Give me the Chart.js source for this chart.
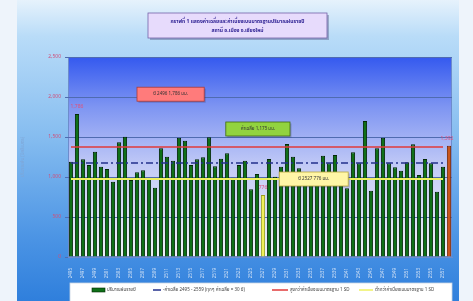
<!DOCTYPE html>
<html>
<head>
<meta charset="utf-8">
<script src="https://cdn.jsdelivr.net/npm/chart.js@4/dist/chart.umd.min.js"></script>
<style>
  html, body { margin: 0; padding: 0; background: #f2f7fc; }
  #wrap { width: 473px; height: 301px; position: relative; }
</style>
</head>
<body>
<div id="wrap"><canvas id="rainChart"></canvas></div>
<script>
const years = ['2495','2496','2497','2498','2499','2500','2501','2502','2503','2504',
    '2505','2506','2507','2508','2509','2510','2511','2512','2513','2514',
    '2515','2516','2517','2518','2519','2520','2521','2522','2523','2524',
    '2525','2526','2527','2528','2529','2530','2531','2532','2533','2534',
    '2535','2536','2537','2538','2539','2540','2541','2542','2543','2544',
    '2545','2546','2547','2548','2549','2550','2551','2552','2553','2554',
    '2555','2556','2557','2558'];
const rain = [1191, 1786, 1221, 1150, 1317, 1129, 1100, 942, 1433, 1504,
    963, 1058, 1083, 983, 867, 1358, 1254, 1204, 1492, 1454,
    1150, 1221, 1246, 1496, 1133, 1229, 1296, 992, 1150, 1204,
    846, 1038, 776, 1225, 1004, 1129, 1413, 1254, 1108, 1000,
    1040, 980, 1267, 1171, 1275, 1038, 858, 1308, 1171, 1700,
    829, 1358, 1492, 1171, 1121, 1079, 1183, 1408, 1025, 1225,
    1171, 817, 1129, 1392];
const meanRain = 1175;
const upperRain = 1375;
const lowerRain = 975;
const yTicks = [0, 500, 1000, 1500, 2000, 2500];

const FONT = "'Noto Sans Thai', 'Noto Sans', 'DejaVu Sans', sans-serif";
const maxIdx = 1, minIdx = 32, lastIdx = rain.length - 1;

const barColors = rain.map((v, i) => i === minIdx ? '#eef05a' : (i === lastIdx ? '#c9561c' : '#0f7018'));
const barBorders = rain.map((v, i) => i === minIdx ? '#9aa020' : (i === lastIdx ? '#7a2a08' : '#032806'));
const flat = v => years.map((y, i) => i < lastIdx ? v : null);

const fmt = v => v.toLocaleString('en-US');

// text boxes over the plot: [text, fill, border, fromIndex, toIndex, centre value]
const notes = [
    ['ปี ' + years[maxIdx] + ' ' + fmt(rain[maxIdx]) + ' มม.', '#ff7b7b', '#a83a3a', 11.0, 22.2, 2035],
    ['ค่าเฉลี่ย ' + fmt(meanRain) + ' มม.', '#92d33f', '#3f6a10', 25.8, 36.5, 1600],
    ['ปี ' + years[minIdx] + ' ' + fmt(rain[minIdx]) + ' มม.', '#fff6a6', '#b8a840', 34.7, 46.2, 975]
];

const backdrop = {
    id: 'backdrop',
    beforeDraw(chart) {
        const { ctx, chartArea: a, width, height } = chart;
        ctx.save();
        ctx.fillStyle = '#eef4fb';
        ctx.fillRect(0, 0, width, height);
        let g = ctx.createLinearGradient(0, 0, 0, height);
        g.addColorStop(0, '#e6f2fc');
        g.addColorStop(0.12, '#b9dcf8');
        g.addColorStop(0.45, '#86bdf0');
        g.addColorStop(0.8, '#4a93e4');
        g.addColorStop(1, '#2f7fdc');
        ctx.fillStyle = g;
        ctx.fillRect(17, 0, width - 31, height);
        g = ctx.createLinearGradient(0, a.top, 0, a.bottom);
        g.addColorStop(0, '#3459ef');
        g.addColorStop(0.25, '#7e95f2');
        g.addColorStop(0.55, '#c3cbf6');
        g.addColorStop(1, '#f2f4fc');
        ctx.fillStyle = g;
        ctx.fillRect(a.left, a.top, a.right - a.left, a.bottom - a.top);
        ctx.strokeStyle = '#6d8ccc';
        ctx.lineWidth = 1;
        ctx.strokeRect(a.left + 0.5, a.top + 0.5, a.right - a.left - 1, a.bottom - a.top - 1);
        ctx.restore();
    },
    afterDatasetsDraw(chart) {
        const { ctx } = chart;
        const x = chart.scales.x, y = chart.scales.y;
        ctx.save();
        ctx.font = '4.5px ' + FONT;
        ctx.textAlign = 'center';
        ctx.textBaseline = 'middle';
        notes.forEach(([text, fill, border, i0, i1, v]) => {
            const l = x.getPixelForValue(i0), r = x.getPixelForValue(i1);
            const cy = y.getPixelForValue(v);
            ctx.fillStyle = 'rgba(40,40,80,0.25)';
            ctx.fillRect(l + 1.5, cy - 5.5, r - l, 14);
            ctx.fillStyle = fill;
            ctx.fillRect(l, cy - 7, r - l, 14);
            ctx.strokeStyle = border;
            ctx.lineWidth = 0.8;
            ctx.strokeRect(l, cy - 7, r - l, 14);
            ctx.fillStyle = '#333';
            ctx.fillText(text, (l + r) / 2, cy);
        });
        // value labels above a few bars
        const meta = chart.getDatasetMeta(0);
        ctx.font = '5px ' + FONT;
        ctx.fillStyle = '#e0507a';
        [maxIdx, minIdx, lastIdx].forEach(i => {
            const bar = meta.data[i];
            const cx = i === lastIdx ? bar.x - 2 : bar.x;
            ctx.fillText(fmt(rain[i]), cx, bar.y - 7);
        });
        ctx.restore();
    },
    afterDraw(chart) {
        const { ctx, chartArea: a } = chart;
        ctx.save();
        // title box
        ctx.fillStyle = 'rgba(60,60,110,0.35)';
        ctx.fillRect(150, 15, 179, 25);
        ctx.fillStyle = '#e7dbfc';
        ctx.fillRect(148, 13, 179, 25);
        ctx.strokeStyle = '#7563a8';
        ctx.lineWidth = 0.8;
        ctx.strokeRect(148, 13, 179, 25);
        ctx.fillStyle = '#2c1f92';
        ctx.font = 'bold 5px ' + FONT;
        ctx.textAlign = 'center';
        ctx.textBaseline = 'middle';
        ctx.fillText('กราฟที่ 1 แสดงค่าเฉลี่ยและค่าเบี่ยงเบนมาตรฐานปริมาณฝนรายปี', 237.5, 21.5);
        ctx.fillText('สถานี อ.เมือง จ.เชียงใหม่', 237.5, 30.5);

        // legend box
        const top = 283;
        ctx.fillStyle = '#ffffff';
        ctx.fillRect(a.left + 2, top, a.right - a.left - 2, 20);
        ctx.strokeStyle = '#c8d4e4';
        ctx.strokeRect(a.left + 2, top, a.right - a.left - 2, 20);
        const ds = chart.data.datasets;
        const ly = 290;
        ctx.font = '4.5px ' + FONT;
        ctx.textAlign = 'left';
        ctx.fillStyle = '#0f7018';
        ctx.fillRect(92, ly - 2, 13, 4);
        ctx.strokeStyle = '#032806';
        ctx.lineWidth = 0.6;
        ctx.strokeRect(92, ly - 2, 13, 4);
        const lineSamples = [[1, 153, 161], [2, 272, 288], [3, 359, 373]];
        ctx.fillStyle = '#444';
        ctx.fillText(ds[0].label, 107, ly);
        lineSamples.forEach(([k, x0, x1]) => {
            ctx.strokeStyle = ds[k].borderColor;
            ctx.lineWidth = 1.5;
            ctx.beginPath();
            ctx.moveTo(x0, ly);
            ctx.lineTo(x1, ly);
            ctx.stroke();
            ctx.fillStyle = '#444';
            ctx.fillText(ds[k].label, x1 + 2, ly);
        });
        ctx.restore();
    }
};

new Chart(document.getElementById('rainChart').getContext('2d'), {
    type: 'bar',
    data: {
        labels: years,
        datasets: [{
            label: 'ปริมาณฝนรายปี',
            data: rain,
            backgroundColor: barColors,
            borderColor: barBorders,
            borderWidth: 1,
            barPercentage: 0.7,
            categoryPercentage: 1,
            order: 4
        }, {
            type: 'line',
            label: '-ค่าเฉลี่ย 2495 - 2559 (ทุกๆ ค่าเฉลี่ย = 30 ปี)',
            data: flat(meanRain),
            borderColor: '#23308c',
            borderWidth: 1.4,
            borderDash: [7, 3, 2, 3],
            pointRadius: 0,
            order: 1
        }, {
            type: 'line',
            label: 'สูงกว่าค่าเบี่ยงเบนมาตรฐาน 1 SD',
            data: flat(upperRain),
            borderColor: '#e03a3a',
            borderWidth: 1.6,
            pointRadius: 0,
            order: 2
        }, {
            type: 'line',
            label: 'ต่ำกว่าค่าเบี่ยงเบนมาตรฐาน 1 SD',
            data: flat(lowerRain),
            borderColor: '#eef060',
            borderWidth: 2,
            pointRadius: 0,
            order: 3
        }]
    },
    options: {
        responsive: true,
        maintainAspectRatio: false,
        animation: false,
        layout: { padding: { left: 18, top: 57, right: 21, bottom: 18 } },
        plugins: {
            legend: { display: false },
            tooltip: { enabled: false }
        },
        scales: {
            x: {
                afterFit: s => { s.height = 26; },
                grid: { display: false },
                border: { color: '#6d8ccc' },
                ticks: {
                    autoSkip: false,
                    maxRotation: 90,
                    minRotation: 90,
                    padding: 3,
                    color: '#d6e4f6',
                    font: { size: 4.5, family: FONT },
                    callback: (v, i) => i % 2 === 0 ? years[i] : ''
                }
            },
            y: {
                min: yTicks[0],
                max: yTicks[yTicks.length - 1],
                afterFit: s => { s.width = 50; },
                afterBuildTicks: s => { s.ticks = yTicks.map(v => ({ value: v })); },
                grid: { color: '#4f6bb0', lineWidth: 1, tickLength: 3 },
                border: { display: false },
                ticks: {
                    padding: 4,
                    color: '#d0507a',
                    font: { size: 5, family: FONT },
                    callback: v => fmt(v)
                },
                title: {
                    display: true,
                    text: 'ปริมาณฝน (มิลลิเมตร)',
                    color: '#7fa6d6',
                    padding: 2,
                    font: { size: 4.5, family: FONT }
                }
            }
        }
    },
    plugins: [backdrop]
});
</script>
</body>
</html>
